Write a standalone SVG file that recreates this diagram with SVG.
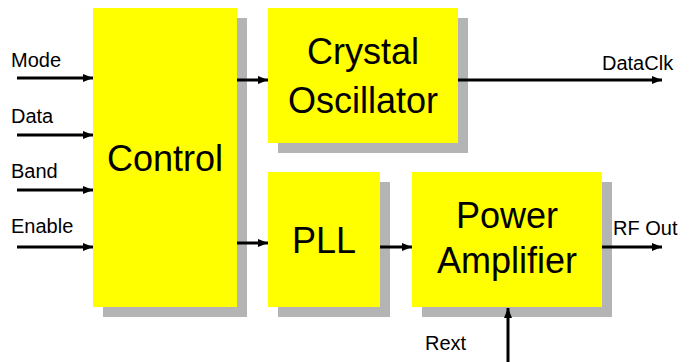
<svg xmlns="http://www.w3.org/2000/svg" width="690" height="362" viewBox="0 0 690 362">
<defs>
<marker id="ah" markerWidth="10" markerHeight="8" refX="10" refY="4" orient="auto" markerUnits="userSpaceOnUse">
<path d="M0,0 L10,4 L0,8 Z" fill="#000"/>
</marker>
<style>
.box{fill:#FFFF00;}
.sh{fill:#B4B4B4;}
.big{font-family:"Liberation Sans",Arial,sans-serif;font-size:36px;fill:#000;text-anchor:middle;}
.lbl{font-family:"Liberation Sans",Arial,sans-serif;font-size:20px;fill:#000;}
.ln{stroke:#000;stroke-width:3;fill:none;marker-end:url(#ah);}
</style>
</defs>
<rect width="690" height="362" fill="#fff"/>
<g id="control">
<rect class="sh" x="103" y="18" width="144" height="299"/>
<rect class="box" x="93" y="8" width="144" height="299"/>
<text class="big" x="165" y="171">Control</text>
</g>
<g id="crystal">
<rect class="sh" x="278" y="18" width="190" height="135"/>
<rect class="box" x="268" y="8" width="190" height="135"/>
<text class="big" x="363" y="64">Crystal</text>
<text class="big" x="363" y="113">Oscillator</text>
</g>
<g id="pll">
<rect class="sh" x="278" y="182" width="112" height="135"/>
<rect class="box" x="268" y="172" width="112" height="135"/>
<text class="big" x="324" y="253">PLL</text>
</g>
<g id="pa">
<rect class="sh" x="422" y="182" width="190" height="135"/>
<rect class="box" x="412" y="172" width="190" height="135"/>
<text class="big" x="507" y="228">Power</text>
<text class="big" x="507" y="273">Amplifier</text>
</g>
<g id="labels">
<text class="lbl" x="11" y="67">Mode</text>
<text class="lbl" x="11" y="123">Data</text>
<text class="lbl" x="11" y="178">Band</text>
<text class="lbl" x="11" y="233">Enable</text>
<text class="lbl" x="602" y="70">DataClk</text>
<text class="lbl" x="613" y="235">RF Out</text>
<text class="lbl" x="425" y="350">Rext</text>
</g>
<g id="connectors">
<line class="ln" x1="17" y1="78" x2="93" y2="78"/>
<line class="ln" x1="17" y1="135" x2="93" y2="135"/>
<line class="ln" x1="17" y1="190" x2="93" y2="190"/>
<line class="ln" x1="17" y1="247" x2="93" y2="247"/>
<line class="ln" x1="237" y1="80" x2="268" y2="80"/>
<line class="ln" x1="237" y1="243" x2="268" y2="243"/>
<line class="ln" x1="458" y1="80" x2="662" y2="80"/>
<line class="ln" x1="380" y1="247" x2="412" y2="247"/>
<line class="ln" x1="602" y1="247" x2="662" y2="247"/>
<line class="ln" x1="508" y1="362" x2="508" y2="308"/>
</g>
</svg>
